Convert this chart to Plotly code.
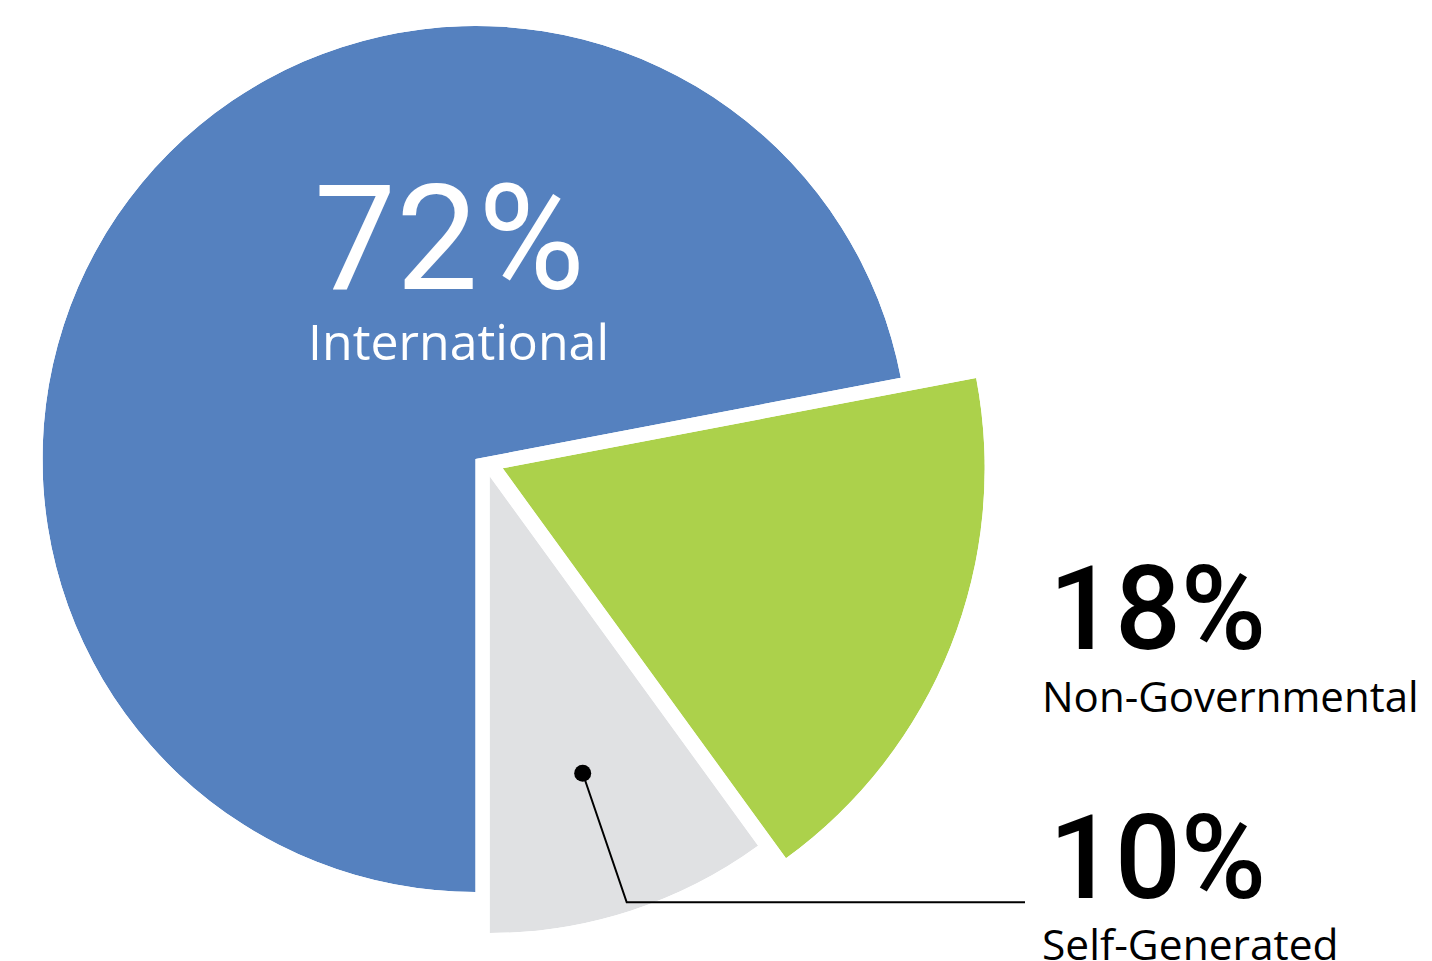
import math
import plotly.graph_objects as go

# ---------------- data ----------------
categories = ["International", "Non-Governmental", "Self-Generated"]
shares = [72, 18, 10]
pct_labels = ["72%", "18%", "10%"]

# ---------------- styling / layout ----------------
slice_colors = ["#5581BF", "#ACD14B", "#E0E1E3"]
W, H = 1432, 961
START = 180.0                      # compass angle (clockwise from top) where slices begin
apex_px = [(475.5, 459.0), (502.7, 468.3), (489.5, 476.0)]   # slice tip positions (px)
radius_px = [433.0, 482.0, 457.0]                               # slice radii (px)


def sector_bbox(s0, s1):
    """Same bounding box computation as plotly.js polar for a sector."""
    arc = s1 - s0
    a0 = s0 % 360
    a1 = a0 + arc
    ax0, ay0 = math.cos(math.radians(a0)), math.sin(math.radians(a0))
    ax1, ay1 = math.cos(math.radians(a1)), math.sin(math.radians(a1))
    if (a0 <= 0 and a1 >= 0) or (a0 > 0 and a1 >= 360):
        x1 = 1
    elif ax0 <= 0 and ax1 <= 0:
        x1 = 0
    else:
        x1 = max(ax0, ax1)
    if (a0 <= 90 and a1 >= 90) or (a0 > 90 and a1 >= 450):
        y1 = 1
    elif ay0 <= 0 and ay1 <= 0:
        y1 = 0
    else:
        y1 = max(ay0, ay1)
    if (a0 <= 180 and a1 >= 180) or (a0 > 180 and a1 >= 540):
        x0 = -1
    elif ax0 >= 0 and ax1 >= 0:
        x0 = 0
    else:
        x0 = min(ax0, ax1)
    if (a0 <= 270 and a1 >= 270) or (a0 > 270 and a1 >= 630):
        y0 = -1
    elif ay0 >= 0 and ay1 >= 0:
        y0 = 0
    else:
        y0 = min(ay0, ay1)
    return x0, y0, x1, y1


fig = go.Figure()
total = float(sum(shares))
cum = START
layout_polars = {}
for i, (cat, val, col) in enumerate(zip(categories, shares, slice_colors)):
    span = val / total * 360.0
    t0, t1 = cum, cum + span
    mid = (t0 + t1) / 2.0
    cum = t1
    # sector in plotly "math" degrees (counter-clockwise from east)
    s0, s1 = 90.0 - t1, 90.0 - t0
    bx0, by0, bx1, by1 = sector_bbox(s0, s1)
    ax, ay = apex_px[i]
    r = radius_px[i]
    xl, xr = ax + r * bx0, ax + r * bx1
    yt, yb = ay - r * by1, ay - r * by0
    dom_x = [max(0.0, xl / W), min(1.0, xr / W)]
    dom_y = [max(0.0, 1 - yb / H), min(1.0, 1 - yt / H)]
    name = "polar" if i == 0 else f"polar{i + 1}"
    fig.add_trace(go.Barpolar(
        r=[1], theta=[mid], width=[span], base=0,
        name=cat, subplot=name, showlegend=False,
        marker=dict(color=col, line=dict(width=0)),
        hovertemplate=f"{cat}: {val}%<extra></extra>",
    ))
    layout_polars[name] = dict(
        domain=dict(x=dom_x, y=dom_y),
        sector=[s0, s1],
        bgcolor="rgba(0,0,0,0)",
        hole=0,
        radialaxis=dict(visible=False, range=[0, 1], showgrid=False, showline=False, ticks=""),
        angularaxis=dict(visible=False, rotation=90, direction="clockwise",
                         showgrid=False, showline=False, ticks=""),
    )

fig.update_layout(**layout_polars)

NUM_FONT = "Roboto"
WORD_FONT = "Open Sans"


def px2paper(x, y):
    return x / W, 1 - y / H


annotations = []
# label placements (px): (x_left, y_center) for percent and name
label_pos = [
    ((312, 239), (306, 341)),
    ((1047, 609), (1040, 695)),
    ((1047, 858), (1040, 943)),
]
num_style = [
    dict(color="white", size=146, weight=400),
    dict(color="black", size=116, weight=500),
    dict(color="black", size=116, weight=500),
]
word_style = [
    dict(color="white", size=50),
    dict(color="black", size=42),
    dict(color="black", size=42.5),
]
for i in range(3):
    (nx, ny), (wx, wy) = label_pos[i]
    x, y = px2paper(nx, ny)
    annotations.append(dict(
        text=pct_labels[i], x=x, y=y, xref="paper", yref="paper",
        xanchor="left", yanchor="middle", showarrow=False,
        font=dict(family=NUM_FONT, size=num_style[i]["size"], color=num_style[i]["color"],
                  weight=num_style[i]["weight"]),
    ))
    x, y = px2paper(wx, wy)
    annotations.append(dict(
        text=categories[i], x=x, y=y, xref="paper", yref="paper",
        xanchor="left", yanchor="middle", showarrow=False,
        font=dict(family=WORD_FONT, size=word_style[i]["size"], color=word_style[i]["color"]),
    ))

# leader line for the small slice
p0 = px2paper(582.7, 773.3)
p1 = px2paper(626.7, 902.3)
p2 = px2paper(1025, 902.3)
dot_r = 8.5
shapes = [
    dict(type="path", xref="paper", yref="paper",
         path=f"M {p0[0]},{p0[1]} L {p1[0]},{p1[1]} L {p2[0]},{p2[1]}",
         line=dict(color="black", width=2)),
    dict(type="circle", xref="paper", yref="paper",
         x0=(582.7 - dot_r) / W, x1=(582.7 + dot_r) / W,
         y0=1 - (773.3 + dot_r) / H, y1=1 - (773.3 - dot_r) / H,
         fillcolor="black", line=dict(width=0)),
]

fig.update_layout(
    width=W, height=H,
    margin=dict(l=0, r=0, t=0, b=0),
    paper_bgcolor="white",
    plot_bgcolor="white",
    showlegend=False,
    annotations=annotations,
    shapes=shapes,
)

fig.write_html("out.html", config={"displayModeBar": False})
